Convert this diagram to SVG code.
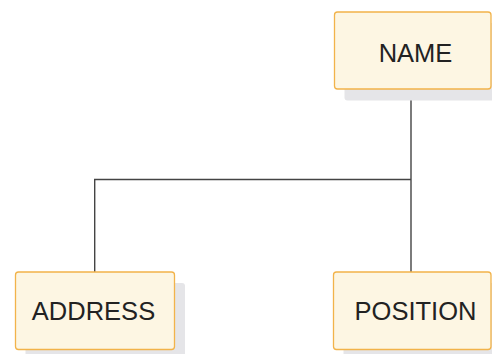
<svg xmlns="http://www.w3.org/2000/svg" width="492" height="354" viewBox="0 0 492 354">
<style>
.shadow{fill:#e5e5e8;}
.box{fill:#fdf6e3;stroke:#f2b34a;stroke-width:1.3;}
.lbl{font-family:"Liberation Sans",Arial,sans-serif;font-size:25.5px;fill:#222;text-anchor:middle;}
.conn{fill:none;stroke:#444;stroke-width:1.4;}
</style>
<rect width="492" height="354" fill="#fff"/>
<g id="connectors">
<path class="conn" d="M411 89 V272"/>
<path class="conn" d="M411 179.5 H94.7 V272"/>
</g>
<g id="name">
<rect class="shadow" x="344.5" y="23" width="156.5" height="77.5" rx="3"/>
<rect class="box" x="334.5" y="12" width="156.5" height="77" rx="3"/>
<text class="lbl" x="415.5" y="61.5">NAME</text>
</g>
<g id="address">
<rect class="shadow" x="25.5" y="283" width="159.5" height="77" rx="3"/>
<rect class="box" x="15.5" y="272" width="159" height="77.5" rx="3"/>
<text class="lbl" x="93.5" y="319.5">ADDRESS</text>
</g>
<g id="position">
<rect class="shadow" x="343.5" y="283" width="157.5" height="77" rx="3"/>
<rect class="box" x="333.5" y="272" width="157.5" height="77.5" rx="3"/>
<text class="lbl" x="415.5" y="319.5">POSITION</text>
</g>
</svg>
